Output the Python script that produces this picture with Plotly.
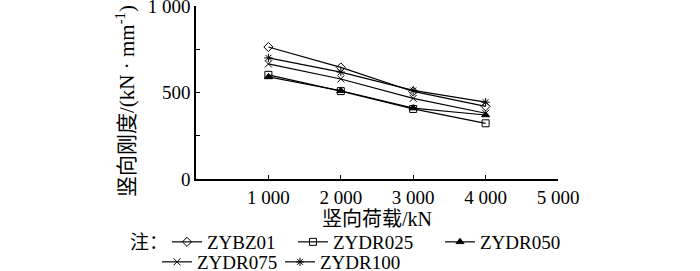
import plotly.graph_objects as go

loads = [1000, 2000, 3000, 4000]
series_names = ["ZYBZ01", "ZYDR025", "ZYDR050", "ZYDR075", "ZYDR100"]
zybz01 = [763, 645, 506, 420]
zydr025 = [602, 508, 405, 322]
zydr050 = [590, 510, 410, 370]
zydr075 = [665, 578, 466, 380]
zydr100 = [700, 618, 512, 444]
x_tickvals = [1000, 2000, 3000, 4000, 5000]
x_ticktext = ["1 000", "2 000", "3 000", "4 000", "5 000"]
y_tickvals = [0, 500, 1000]
y_ticktext = ["0", "500", "1 000"]

values = [zybz01, zydr025, zydr050, zydr075, zydr100]
symbols = ["diamond-open", "square-open", "triangle-up", "x-thin-open", "asterisk-open"]
legend_ids = ["legend", "legend2", "legend3", "legend4", "legend5"]
# legend text start (px) and row centre (px)
legend_pos = [(207, 242), (333, 242), (480, 242), (197, 262), (320, 262)]

SERIF = "Liberation Serif, Noto Sans CJK SC, serif"

fig = go.Figure()
for name, vals, sym, lg in zip(series_names, values, symbols, legend_ids):
    fig.add_trace(go.Scatter(
        x=loads, y=vals, name=name, mode="lines+markers",
        line=dict(color="black", width=1.2),
        marker=dict(symbol=sym, size=7, color="black",
                    line=dict(color="black", width=1)),
        legend=lg,
    ))

W, H = 700, 271
ml, mr, mt, mb = 196, 142, 6, 92
pw = W - ml - mr
ph = H - mt - mb

def px_x(p):
    return (p - ml) / pw

def px_y(p):
    return (H - mb - p) / ph

legend_layout = {}
for lg, (tx, ty) in zip(legend_ids, legend_pos):
    legend_layout[lg] = dict(
        orientation="h", x=px_x(tx - 40), y=px_y(ty), xanchor="left", yanchor="middle",
        font=dict(size=19), bgcolor="rgba(0,0,0,0)", itemclick=False,
    )

fig.update_layout(
    width=W, height=H,
    margin=dict(l=ml, r=mr, t=mt, b=mb, autoexpand=False),
    paper_bgcolor="white", plot_bgcolor="white",
    font=dict(family=SERIF, size=19, color="black"),
    showlegend=True,
    xaxis=dict(
        range=[0, 5000], tickvals=x_tickvals, ticktext=x_ticktext,
        showline=True, linecolor="black", linewidth=1.5,
        ticks="inside", ticklen=4, tickcolor="black", tickwidth=1.2,
        showgrid=False, zeroline=False, automargin=False,
        ticklabeloverflow="allow",
        title=dict(text="竖向荷载/kN", font=dict(size=20), standoff=0),
    ),
    yaxis=dict(
        range=[0, 1000], tickvals=y_tickvals, ticktext=y_ticktext,
        showline=True, linecolor="black", linewidth=1.5,
        ticks="inside", ticklen=4, tickcolor="black", tickwidth=1.2,
        minor=dict(dtick=250, ticks="inside", ticklen=4, tickcolor="black", tickwidth=1.2),
        showgrid=False, zeroline=False, automargin=False,
        ticklabeloverflow="allow",
    ),
    annotations=[
        dict(text="注：", xref="paper", yref="paper", x=px_x(128), y=px_y(242),
             xanchor="left", yanchor="middle", showarrow=False,
             font=dict(size=19, family=SERIF)),
        dict(text="竖向刚度/(kN · mm<sup>-1</sup>)", xref="paper", yref="paper",
             x=px_x(125), y=px_y(101), xanchor="center", yanchor="middle",
             textangle=-90, showarrow=False, font=dict(size=21, family=SERIF)),
    ],
    **legend_layout,
)

fig.write_html("out.html")
